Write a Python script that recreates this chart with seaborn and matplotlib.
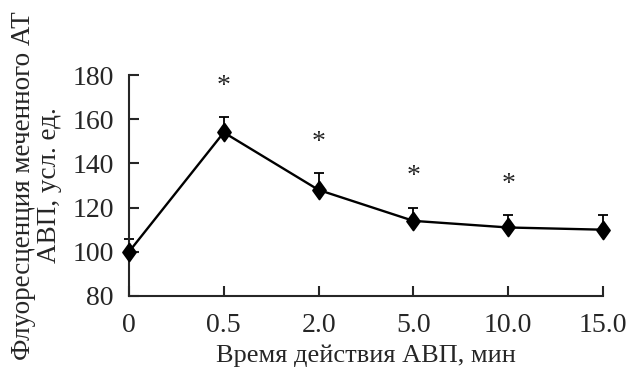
"""Fluorescence of labelled AT vs. time of AVP action"""

import numpy as np
import matplotlib
matplotlib.use("Agg")
import matplotlib.pyplot as plt
import seaborn as sns

time_labels = ["0", "0.5", "2.0", "5.0", "10.0", "15.0"]
fluorescence = [100, 154, 128, 114, 111, 110]
error_up = [6, 7, 7.5, 6, 5.5, 6.5]
significant = [False, True, True, True, True, False]

sns.set_style("ticks")
plt.rcParams["font.family"] = ["Liberation Serif", "DejaVu Serif"]
plt.rcParams["axes.linewidth"] = 1.5

fig = plt.figure(figsize=(6.27, 3.67), dpi=100)
ax = fig.add_axes([0.2057, 0.1935, 0.756, 0.6021])

diamond = [(0, 1), (0.72, 0), (0, -1), (-0.72, 0), (0, 1)]

positions = np.arange(len(time_labels))
bars = ax.errorbar(
    positions,
    fluorescence,
    yerr=[np.zeros(len(error_up)), error_up],
    fmt="none",
    ecolor="black",
    elinewidth=1.3,
    capsize=3.6,
    capthick=1.3,
    zorder=2,
)
for artist in bars.lines[1] + bars.lines[2]:
    artist.set_clip_on(False)

sns.pointplot(
    x=time_labels,
    y=fluorescence,
    order=time_labels,
    color="black",
    marker=diamond,
    markersize=13,
    linewidth=1.7,
    errorbar=None,
    ax=ax,
    zorder=3,
)
for line in ax.lines:
    line.set_clip_on(False)

for i, sig in enumerate(significant):
    if sig:
        ax.text(
            positions[i],
            fluorescence[i] + error_up[i] + 11,
            "*",
            ha="center",
            va="baseline",
            fontsize=20,
        )

ax.set_xlim(0, len(time_labels) - 1)
ax.set_ylim(80, 180)
ax.set_yticks([80, 100, 120, 140, 160, 180])
ax.tick_params(direction="in", length=7, width=1.5, labelsize=20)
ax.tick_params(axis="y", pad=11)
ax.tick_params(axis="x", pad=12)
sns.despine(ax=ax)

ax.set_xlabel("Время действия АВП, мин", fontsize=19, labelpad=5)
ax.set_ylabel("Флуоресценция меченного АТ\nАВП, усл. ед.", fontsize=19.5,
              labelpad=7, linespacing=1.1)

fig.savefig("out.png", dpi=100)
